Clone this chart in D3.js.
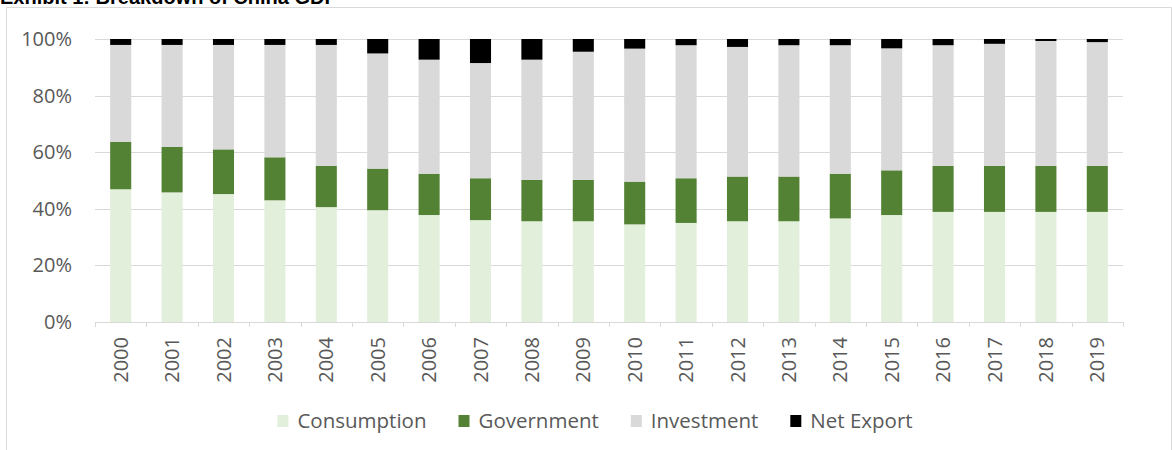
<!DOCTYPE html>
<html>
<head>
<meta charset="utf-8">
<script src="https://cdn.jsdelivr.net/npm/d3@7"></script>
<style>
  body { margin: 0; background: #fff; }
  svg { display: block; }
</style>
</head>
<body>
<svg id="chart" width="1172" height="450"></svg>
<script>
// Share of GDP by component, percent
var years = ["2000","2001","2002","2003","2004","2005","2006","2007","2008","2009",
             "2010","2011","2012","2013","2014","2015","2016","2017","2018","2019"];
var consumption = [46.9,45.8,45.2,43.0,40.6,39.5,37.8,36.0,35.6,35.6,34.5,35.0,35.6,35.6,36.6,37.8,38.9,38.9,38.9,38.9];
var government  = [16.8,16.1,15.8,15.2,14.6,14.7,14.6,14.8,14.6,14.6,15.1,15.8,15.8,15.8,15.8,15.8,16.3,16.3,16.3,16.3];
var investment  = [34.2,36.0,36.9,39.7,42.7,40.7,40.3,40.7,42.5,45.3,47.0,47.0,45.8,46.4,45.4,43.1,42.6,43.1,44.1,43.7];
var netExport   = [2.1,2.1,2.1,2.1,2.1,5.1,7.3,8.5,7.3,4.5,3.4,2.2,2.8,2.2,2.2,3.3,2.2,1.7,0.7,1.1];
var seriesNames = ["Consumption","Government","Investment","Net Export"];
var yTicks = [0, 20, 40, 60, 80, 100];

var colors = ["#e2efda", "#548235", "#d9d9d9", "#000000"];
var font = "'Open Sans', sans-serif";
var textColor = "#595959";

var svg = d3.select("#chart");

// title, mostly cut off by the top edge
svg.append("text")
    .attr("x", 0).attr("y", 4)
    .style("font-family", "'Liberation Sans', Arial, sans-serif")
    .style("font-weight", "bold")
    .style("font-size", "20px")
    .style("fill", "#000")
    .text("Exhibit 1: Breakdown of China GDP");

// chart frame
svg.append("path")
    .attr("d", "M6.5,460V7.5H1171.5V460")
    .style("fill", "none")
    .style("stroke", "#d9d9d9");

var rows = years.map(function(y, i) {
  return {year: y, Consumption: consumption[i], Government: government[i],
          Investment: investment[i], "Net Export": netExport[i]};
});
var stacked = d3.stack().keys(seriesNames)(rows);

var x = d3.scaleBand().domain(years).range([95, 1123])
    .paddingInner(0.59).paddingOuter(0.295);
var y = d3.scaleLinear().domain([0, 100]).range([322, 39]);

// gridlines
svg.append("g").selectAll("line")
    .data(yTicks.filter(function(d) { return d > 0; }))
    .enter().append("line")
    .attr("x1", 95).attr("x2", 1123)
    .attr("y1", function(d) { return Math.round(y(d)) + 0.5; })
    .attr("y2", function(d) { return Math.round(y(d)) + 0.5; })
    .style("stroke", "#d9d9d9");

// y labels
svg.append("g").selectAll("text")
    .data(yTicks)
    .enter().append("text")
    .attr("x", 72)
    .attr("y", function(d) { return y(d); })
    .attr("dy", "0.35em")
    .attr("text-anchor", "end")
    .style("font-family", font)
    .style("font-size", "20px")
    .style("fill", textColor)
    .text(function(d) { return d + "%"; });

// bars
svg.append("g").selectAll("g")
    .data(stacked)
    .enter().append("g")
    .style("fill", function(d, i) { return colors[i]; })
  .selectAll("rect")
    .data(function(d) { return d; })
    .enter().append("rect")
    .attr("x", function(d) { return x(d.data.year); })
    .attr("width", x.bandwidth())
    .attr("y", function(d) { return y(d[1]); })
    .attr("height", function(d) { return y(d[0]) - y(d[1]); });

// x axis line and ticks between categories
var axis = svg.append("g").style("stroke", "#d9d9d9");
axis.append("line")
    .attr("x1", 95).attr("x2", 1123)
    .attr("y1", 322.5).attr("y2", 322.5);
axis.selectAll(".tick")
    .data(d3.range(years.length + 1))
    .enter().append("line")
    .attr("x1", function(i) { return Math.round(95 + i * x.step()) + 0.5; })
    .attr("x2", function(i) { return Math.round(95 + i * x.step()) + 0.5; })
    .attr("y1", 322).attr("y2", 327);

// x labels, rotated
svg.append("g").selectAll("text")
    .data(years)
    .enter().append("text")
    .attr("transform", function(d) {
      return "translate(" + (x(d) + x.bandwidth() / 2) + ",337) rotate(-90)";
    })
    .attr("dy", "0.35em")
    .attr("text-anchor", "end")
    .style("font-family", font)
    .style("font-size", "20px")
    .style("fill", textColor)
    .text(function(d) { return d; });

// legend
var legend = svg.append("g");
var lx = 0;
seriesNames.forEach(function(name, i) {
  var item = legend.append("g").attr("transform", "translate(" + lx + ",0)");
  item.append("rect")
      .attr("x", 0).attr("y", -6)
      .attr("width", 11).attr("height", 12)
      .style("fill", colors[i]);
  var t = item.append("text")
      .attr("x", 20).attr("dy", "0.35em")
      .style("font-family", font)
      .style("font-size", "20.5px")
      .style("fill", textColor)
      .text(name);
  lx += 20 + t.node().getComputedTextLength() + 32;
});
var legendWidth = lx - 32;
legend.attr("transform", "translate(" + (595 - legendWidth / 2) + ",421)");
</script>
</body>
</html>
